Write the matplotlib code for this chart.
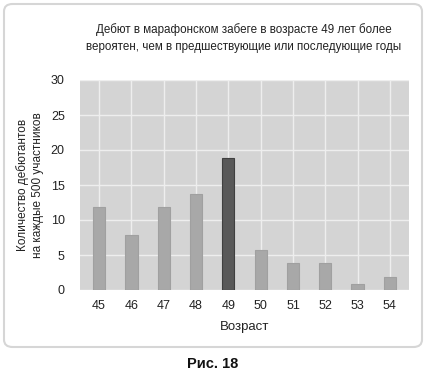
import numpy as np
import matplotlib
matplotlib.use('Agg')
import matplotlib.pyplot as plt
from matplotlib.patches import FancyBboxPatch

ages = [45, 46, 47, 48, 49, 50, 51, 52, 53, 54]
debuts = [11.8, 7.9, 11.9, 13.7, 18.8, 5.7, 3.8, 3.8, 0.8, 1.9]
highlight_age = 49
y_ticks = [0, 5, 10, 15, 20, 25, 30]

title = "Дебют в марафонском забеге в возрасте 49 лет более\nвероятен, чем в предшествующие или последующие годы"
ylabel = "Количество дебютантов\nна каждые 500 участников"
xlabel = "Возраст"
caption = "Рис. 18"

plt.rcParams['font.family'] = ['Liberation Sans', 'DejaVu Sans']

W, H = 426, 374
fig = plt.figure(figsize=(W / 100, H / 100), dpi=100)
fig.patch.set_facecolor('white')

# rounded frame round the chart
frame = FancyBboxPatch((4 / W, 1 - 347 / H), 418 / W, 343 / H,
                       boxstyle="round,pad=0,rounding_size=0.02",
                       transform=fig.transFigure, facecolor='none',
                       edgecolor='#d6d6d6', linewidth=1.5, zorder=-1)
fig.patches.append(frame)

ax = fig.add_axes([80 / W, 1 - 290 / H, 329 / W, 210 / H])
ax.set_facecolor('#d4d4d4')

colors = ['#595959' if a == highlight_age else '#a8a8a8' for a in ages]
edges = ['#404040' if a == highlight_age else '#a0a0a0' for a in ages]
ax.bar(ages, debuts, width=0.38, color=colors, edgecolor=edges, linewidth=0.8, zorder=3)

ax.set_xlim(ages[0] - 0.59, ages[-1] + 0.59)
ax.set_ylim(0, 30)
ax.set_xticks(ages)
ax.set_yticks(y_ticks)
ax.grid(True, color='#eeeeee', linewidth=1.0, zorder=0)
ax.set_axisbelow(True)
for s in ax.spines.values():
    s.set_visible(False)
ax.tick_params(length=0, labelsize=9, colors='#222222', pad=7)
ax.tick_params(axis='y', pad=11)

ax.set_xlabel(xlabel, fontsize=9.5, color='#222222', labelpad=7)
ax.set_ylabel(ylabel, fontsize=8.5, color='#222222', labelpad=5, linespacing=1.3)

fig.text(244 / W, 1 - 38 / H, title, ha='center', va='center',
         fontsize=8.4, color='#222222', linespacing=1.6)

fig.text(213 / W, 1 - 364 / H, caption, ha='center', va='center',
         fontsize=10.5, fontweight='bold', color='#111111')

fig.savefig('out.png', dpi=100)
